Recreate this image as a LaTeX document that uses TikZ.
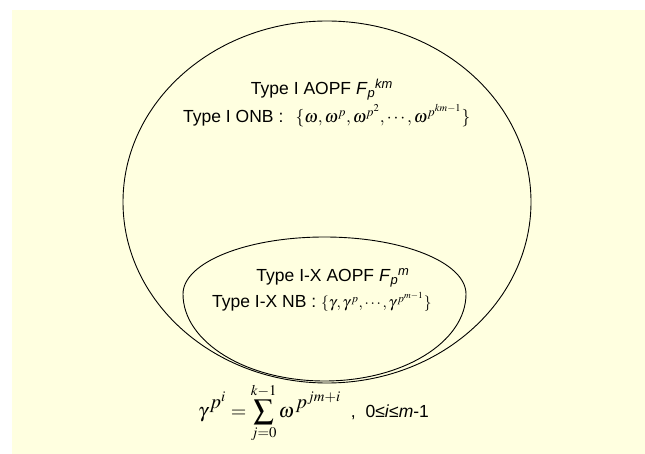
\documentclass[tikz,border=0pt]{standalone}
\usepackage{mathptmx}
\usepackage[no-math]{fontspec}
\setmainfont{Liberation Sans}
\definecolor{bgyellow}{RGB}{255,255,224}
\tikzset{
  lbl/.style={inner sep=0pt, font=\fontsize{17.5}{21}\selectfont},
  shapeline/.style={draw=black, line width=0.9pt}
}
\begin{document}
\begin{tikzpicture}[x=1pt,y=-1pt]
\useasboundingbox (0,0) rectangle (645,454);
\fill[bgyellow] (12,10) rectangle (645,454);
% outer ellipse
\draw[shapeline] (327,202) ellipse[x radius=204pt, y radius=181pt];
% inner egg-shaped set
\draw[shapeline] (183,294) arc[start angle=180, end angle=0, x radius=141.5pt, y radius=57pt]
  arc[start angle=0, end angle=-180, x radius=141.5pt, y radius=87pt] -- cycle;
% texts
\node[lbl, anchor=base] (t1) at (322,95) {Type I AOPF \textit{F}\textsubscript{\textit{p}}\textsuperscript{\textit{km}}};
\node[lbl, anchor=base west] (t2) at (183,123) {Type I ONB :\hspace{0.7em}$\{\omega,\omega^{p},\omega^{p^{2}},\cdots,\omega^{p^{km-1}}\}$};
\node[lbl, anchor=base] (t3) at (333,282) {Type I-X AOPF \textit{F}\textsubscript{\textit{p}}\textsuperscript{\textit{m}}};
\node[lbl, anchor=base west] (t4) at (212,308) {Type I-X NB : {\fontsize{15.5}{18}\selectfont$\{\gamma,\gamma^{\,p},\cdots,\gamma^{\,p^{m-1}}\}$}};
\node[lbl, anchor=base west] (t5) at (198,417) {{\fontsize{20}{24}\selectfont$\displaystyle \gamma^{\,\textstyle p^{\scriptstyle i}}=\sum_{j=0}^{k-1}\omega^{\,\textstyle p^{\scriptstyle jm+i}}$}\ \ ,\ \ 0≤\textit{i}≤\textit{m}-1};
\end{tikzpicture}
\end{document}
